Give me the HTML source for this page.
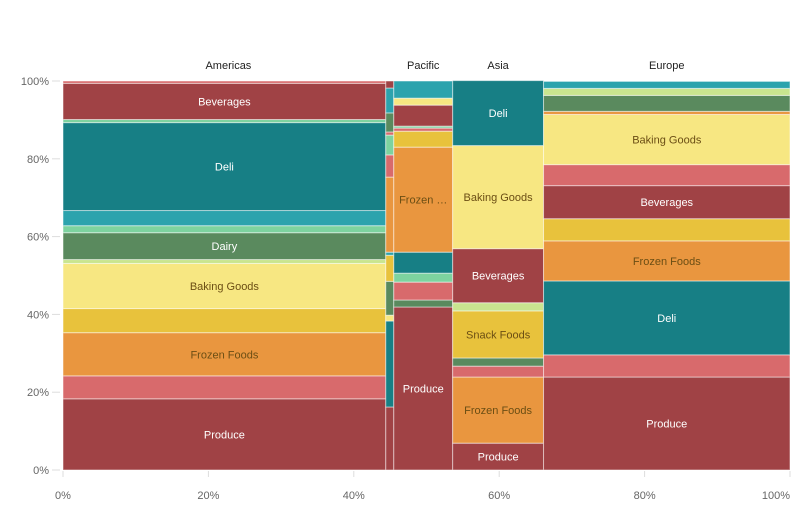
<!DOCTYPE html>
<html><head><meta charset="utf-8"><style>
body{margin:0;background:#fff;}
svg text{font-family:"Liberation Sans",sans-serif;}
</style></head><body>
<svg id="chart" width="804" height="525" xmlns="http://www.w3.org/2000/svg"></svg>
<script>
const regions = ["Americas", "Pacific", "Asia", "Europe"];
const columnRegion = ["Americas", "Americas", "Pacific", "Asia", "Europe"];
const columnWidths = [44.4, 1.1, 8.1, 12.5, 33.9];
const col0Cats = ["Produce","Pink","Frozen Foods","Snack Foods","Baking Goods","LightGreen","Dairy","Mint","Teal","Deli","Mint","Beverages","Pink"];
const col0Vals = [18.3,5.9,11.1,6.2,11.6,1,6.9,1.8,3.9,22.6,0.8,9.3,0.6];
const col1Cats = ["Produce","Deli","Baking Goods","Dairy","Snack Foods","Teal","Frozen Foods","Pink","Mint","Pink","Dairy","Teal","Beverages"];
const col1Vals = [16.2,22.1,1.5,8.7,6.7,0.8,19.3,5.7,5.1,0.8,4.9,6.4,1.8];
const col2Cats = ["Produce","Dairy","Pink","Mint","Deli","Frozen Foods","Snack Foods","Pink","Mint","Beverages","Baking Goods","Teal"];
const col2Vals = [41.9,1.8,4.6,2.3,5.4,27,4.1,0.8,0.5,5.4,1.8,4.4];
const col3Cats = ["Produce","Frozen Foods","Pink","Dairy","Snack Foods","LightGreen","Beverages","Baking Goods","Deli"];
const col3Vals = [6.9,17,2.8,2.1,12.1,2.1,13.9,26.5,16.7];
const col4Cats = ["Produce","Pink","Deli","Frozen Foods","Snack Foods","Beverages","Pink","Baking Goods","Frozen Foods","Dairy","LightGreen","Teal"];
const col4Vals = [23.9,5.7,19,10.3,5.7,8.5,5.4,12.9,0.8,4.1,1.8,1.8];
const colCats = [col0Cats,col1Cats,col2Cats,col3Cats,col4Cats];
const colVals = [col0Vals,col1Vals,col2Vals,col3Vals,col4Vals];
const labelNames = ["Produce","Frozen Foods","Snack Foods","Baking Goods","Dairy","Deli","Beverages"];
const tickVals = [0,20,40,60,80,100];

const colors = {"Produce":"#a04245","Beverages":"#a04245","Pink":"#d86a6c","Frozen Foods":"#e9963f","Snack Foods":"#e8c23c","Baking Goods":"#f7e782","LightGreen":"#c9e58f","Dairy":"#5a8a5e","Mint":"#7dd39f","Teal":"#2ca3ad","Deli":"#177f85"};
const darkText = {"Frozen Foods":1,"Snack Foods":1,"Baking Goods":1};
const X0=63, X1=790, Y0=470, Y1=81;
const sx = v => X0 + v/100*(X1-X0);
const sy = v => Y0 - v/100*(Y0-Y1);
const svg = document.getElementById('chart');
const NS="http://www.w3.org/2000/svg";
function mk(tag, attrs){const e=document.createElementNS(NS,tag);for(const k in attrs)e.setAttribute(k,attrs[k]);svg.appendChild(e);return e;}

tickVals.forEach(t=>{
  const l=mk('line',{x1:52,x2:60,y1:sy(t),y2:sy(t),stroke:'#ddd'});
  
  
  const tx=mk('text',{x:49,y:sy(t)+4,'text-anchor':'end','font-size':11,fill:'#666'});
  tx.textContent=t+'%';
  
  
});
tickVals.forEach(t=>{
  const l=mk('line',{x1:sx(t),x2:sx(t),y1:471,y2:477,stroke:'#ddd'});
  
  
  const tx=mk('text',{x:t===100?X1:sx(t),y:499,'text-anchor':t===100?'end':'middle','font-size':11,fill:'#666'});
  tx.textContent=t+'%';
  
  
});

let cum=0;
const regionSpan={};
columnWidths.forEach((w,ci)=>{
  const xa=sx(cum), xb=sx(cum+w);
  const r=columnRegion[ci];
  if(!regionSpan[r])regionSpan[r]=[xa,xb];else regionSpan[r][1]=xb;
  let c=0;
  colVals[ci].forEach((v,si)=>{
    const cat=colCats[ci][si];
    const ya=sy(c+v), yb=sy(c);
    const rect=mk('rect',{x:xa,y:ya,width:Math.max(0,xb-xa),height:Math.max(0,yb-ya),fill:colors[cat],stroke:'#fff','stroke-opacity':0.5,'stroke-width':1});
    
    
    if(labelNames.includes(cat) && (yb-ya)>25 && (xb-xa)>40){
      let label=cat;
      if((xb-xa)<70 && cat.length>7) label=cat.split(' ')[0]+' …';
      const tx=mk('text',{x:(xa+xb)/2,y:(ya+yb)/2+4,'text-anchor':'middle','font-size':11,fill:darkText[cat]?'#6b4e14':'#fff'});
      tx.textContent=label;
      
      
    }
    c+=v;
  });
  cum+=w;
});
regions.forEach(r=>{
  const s=regionSpan[r];
  const tx=mk('text',{x:(s[0]+s[1])/2,y:69,'text-anchor':'middle','font-size':11,fill:'#222'});
  tx.textContent=r;
  
  
});
</script>
</body></html>
